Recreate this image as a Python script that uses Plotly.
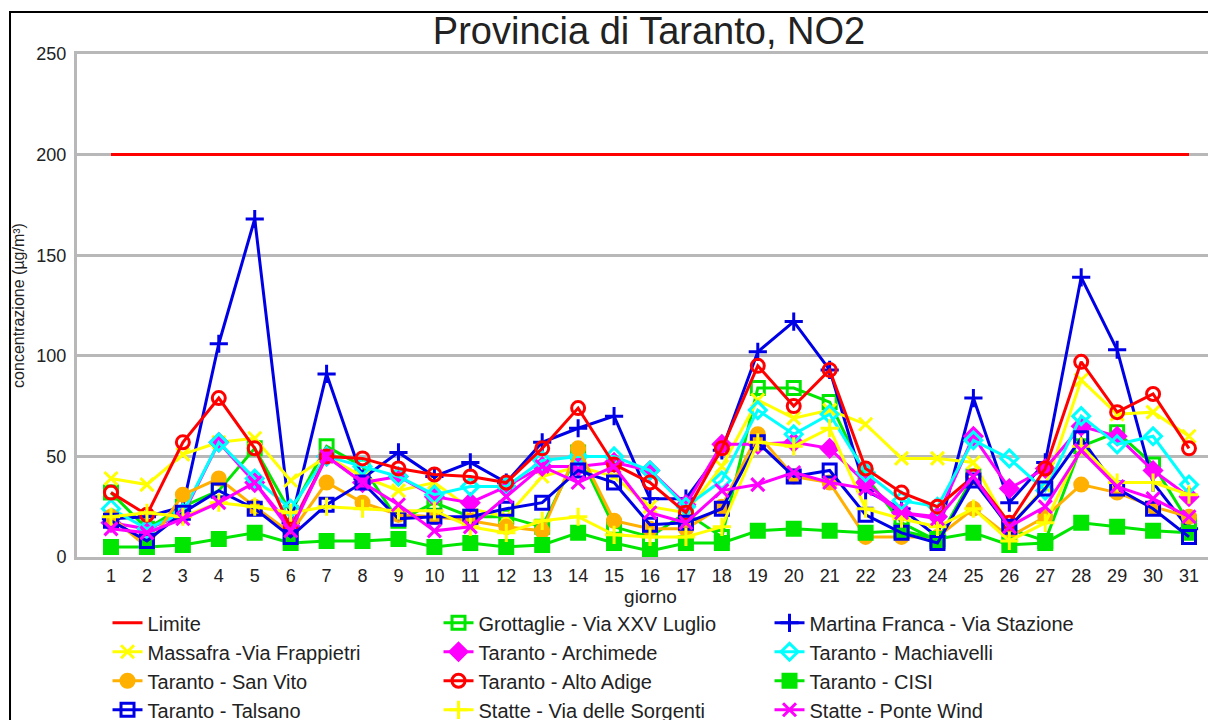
import plotly.graph_objects as go

days = list(range(1, 32))
limite = [200] * 31

grottaglie = [32, 14, 25, 33, 54, 22, 55, 45, 18, 27, 20, 20, 15, 52, 15, 10, 22, 10, 84, 84, 77, 40, 17, 8, 40, 14, 8, 55, 62, 46, 17]
martina = [19, 20, 25, 106, 168, 17, 91, 39, 52, 40, 47, 37, 57, 64, 70, 29, 29, 53, 102, 117, 93, 33, 24, 10, 79, 27, 47, 139, 103, 37, 14]
massafra = [39, 36, 51, 57, 59, 38, 50, 40, 33, 37, 24, 20, 40, 45, 40, 25, 22, 45, 78, 69, 73, 66, 49, 49, 47, 15, 35, 88, 71, 72, 60]
archimede = [17, 14, 21, 57, 37, 15, 50, 37, 40, 30, 27, 35, 45, 45, 47, 43, 26, 56, 56, 57, 54, 37, 22, 20, 60, 34, 44, 65, 60, 43, 30]
machiavelli = [24, 14, 22, 57, 39, 24, 50, 45, 40, 31, 35, 35, 48, 50, 50, 43, 25, 38, 73, 61, 71, 42, 28, 25, 58, 49, 33, 70, 56, 60, 36]
san_vito = [20, 5, 31, 39, 25, 12, 37, 27, 21, 20, 18, 15, 13, 54, 18, 14, 14, 25, 61, 40, 37, 10, 10, 10, 24, 10, 20, 36, 32, 25, 20]
alto_adige = [32, 21, 57, 79, 54, 14, 50, 49, 44, 41, 40, 37, 54, 74, 46, 37, 22, 54, 95, 75, 93, 44, 32, 25, 40, 17, 44, 97, 72, 81, 54]
cisi = [5, 5, 6, 9, 12, 7, 8, 8, 9, 5, 7, 5, 6, 12, 7, 3, 7, 7, 13, 14, 13, 12, 13, 9, 12, 6, 7, 17, 15, 13, 12]
talsano = [18, 8, 22, 33, 24, 10, 26, 37, 19, 20, 20, 24, 27, 43, 37, 16, 17, 24, 57, 40, 43, 21, 12, 7, 38, 15, 34, 59, 34, 24, 10]
sorgenti = [20, 22, 20, 27, 25, 22, 25, 24, 23, 23, 15, 12, 18, 20, 11, 10, 10, 15, 57, 55, 64, 24, 19, 15, 24, 8, 17, 55, 37, 37, 31]
ponte_wind = [14, 12, 19, 27, 37, 13, 50, 37, 26, 13, 15, 30, 45, 37, 45, 22, 17, 33, 36, 42, 37, 34, 22, 19, 40, 15, 25, 53, 35, 29, 20]

FONT = "Liberation Sans Narrow, Arial Narrow, Liberation Sans, Arial, sans-serif"
GRID = "#b8b8b8"

series = [
    ("Limite", limite, "#ff0000", None),
    ("Grottaglie - Via XXV Luglio", grottaglie, "#00e600", "square-open"),
    ("Martina Franca - Via Stazione", martina, "#0000e6", "cross-thin-open"),
    ("Massafra -Via Frappietri", massafra, "#ffff00", "x-thin-open"),
    ("Taranto - Archimede", archimede, "#ff00ff", "diamond"),
    ("Taranto - Machiavelli", machiavelli, "#00ffff", "diamond-open"),
    ("Taranto - San Vito", san_vito, "#ffb000", "circle"),
    ("Taranto - Alto Adige", alto_adige, "#ff0000", "circle-open"),
    ("Taranto - CISI", cisi, "#00e600", "square"),
    ("Taranto - Talsano", talsano, "#0000e6", "square-open"),
    ("Statte - Via delle Sorgenti", sorgenti, "#ffff00", "cross-thin-open"),
    ("Statte - Ponte Wind", ponte_wind, "#ff00ff", "x-thin-open"),
]

fig = go.Figure()
for name, vals, color, sym in series:
    if sym is None:
        fig.add_trace(go.Scatter(x=days, y=vals, name=name, mode="lines",
                                 line=dict(color=color, width=3)))
    else:
        fig.add_trace(go.Scatter(x=days, y=vals, name=name, mode="lines+markers",
                                 line=dict(color=color, width=3),
                                 marker=dict(symbol=sym, size=13, color=color,
                                             line=dict(color=color, width=3))))

fig.update_layout(
    width=1216, height=720,
    margin=dict(l=69, r=0, t=46, b=171, autoexpand=False),
    paper_bgcolor="white", plot_bgcolor="white",
    font=dict(family=FONT, color="#222222", size=18),
    title=dict(text="Provincia di Taranto, NO2", x=0.4987, xanchor="center", xref="paper",
               y=0.968, yanchor="middle", yref="container",
               font=dict(size=38, family=FONT, color="#222222")),
    showlegend=True,
    legend=dict(orientation="h", x=0.0266, xanchor="left", y=-0.092, yanchor="top",
                entrywidth=286, entrywidthmode="pixels",
                font=dict(size=20, family=FONT, color="#222222"),
                itemwidth=30, bgcolor="rgba(0,0,0,0)"),
    shapes=[dict(type="rect", xref="paper", yref="paper",
                 x0=-0.0584, x1=1.2, y0=-0.6, y1=1.0835,
                 line=dict(color="black", width=2), layer="above")],
)
fig.update_xaxes(range=[0.054, 31.974], tickvals=days, ticktext=[str(d) for d in days],
                 showgrid=False, zeroline=False,
                 showline=True, mirror=True, linecolor=GRID, linewidth=3,
                 ticks="", tickfont=dict(size=18),
                 title=dict(text="giorno", font=dict(size=19), standoff=2))
fig.update_yaxes(range=[0, 250], dtick=50, showgrid=True, gridcolor=GRID, gridwidth=3,
                 zeroline=False, showline=True, linecolor=GRID, linewidth=3,
                 ticks="", ticklabelstandoff=4, tickfont=dict(size=18),
                 title=dict(text="concentrazione (µg/m³)", font=dict(size=16), standoff=8))

fig.write_html("out.html")
